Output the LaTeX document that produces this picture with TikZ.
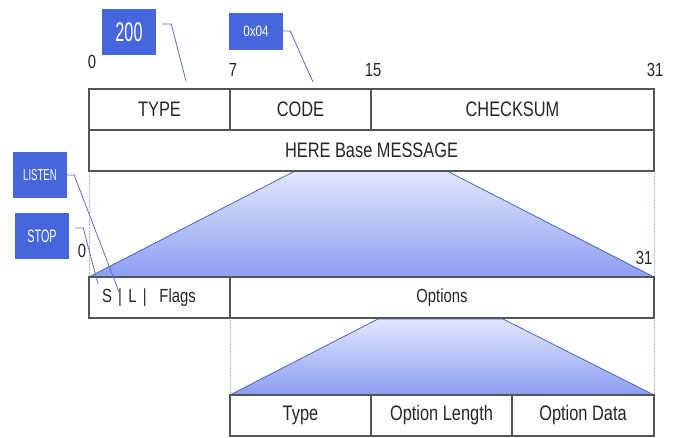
\documentclass[tikz,border=0pt]{standalone}
\usepackage{fontspec}
\setmainfont{Liberation Sans}[FakeStretch=0.78]
\newfontfamily\tagfont{Liberation Sans}[FakeStretch=0.6]
\usetikzlibrary{positioning}
\definecolor{tagblue}{HTML}{4566DC}
\definecolor{leadblue}{HTML}{5C6EC8}
\definecolor{edgeblue}{HTML}{4A62D4}
\definecolor{guideblue}{HTML}{A6B6F0}
\definecolor{wedgetop}{HTML}{E2E7FC}
\definecolor{wedgebottom}{HTML}{8C9DF1}
\definecolor{cellgray}{HTML}{555555}
\tikzset{%
  every cell/.style={
    rectangle,
    draw=cellgray,
    line width=1.3pt,
    inner sep=0pt,
    minimum height=41pt,
    text=black!85,
    font=\fontsize{21}{25}\selectfont
  },
  small cell/.style={
    font=\fontsize{19}{23}\selectfont
  },
  tag/.style={
    fill=tagblue,
    text=white,
    inner sep=0pt,
    minimum width=54pt,
    minimum height=46pt
  },
  lead/.style={draw=leadblue, line width=0.8pt},
  guide/.style={draw=guideblue, densely dotted, line width=0.5pt},
  bit/.style={inner sep=0pt, text=black!85, font=\fontsize{19}{23}\selectfont},
  wedge/.style={draw=edgeblue, line width=0.8pt, top color=wedgetop, bottom color=wedgebottom},
}

\begin{document}
\begin{tikzpicture}[x=1pt, y=-1pt]
    \useasboundingbox (0,0) rectangle (678,437);

    \path [guide] (89,171) -- (89,277) (654,171) -- (654,277);
    \path [guide] (230,318) -- (230,395) (654,318) -- (654,395);

    \path [wedge] (295,171) -- (447,171) -- (654,277) -- (89,277) -- cycle;
    \path [wedge] (378,319) -- (503,319) -- (654,395) -- (230,395) -- cycle;

    \foreach \l/\a/\b [count=\i] in {TYPE/89/230, CODE/230/371, CHECKSUM/371/654}
      \node [every cell, minimum width={(\b-\a)*1pt}] (head-\i) at ({(\a+\b)/2},109.5) {\l};

    \node [every cell, minimum width=565pt] (msg) at (371.5,150.5) {HERE Base MESSAGE};

    \node [every cell, small cell, minimum width=141pt, text width=115pt, align=left]
      (flags) at (159.5,297.5) {S | L |~~Flags};
    \node [every cell, small cell, minimum width=424pt] (opts) at (442,297.5) {Options};

    \foreach \l/\a/\b [count=\i] in {Type/230/371, Option Length/371/512, Option Data/512/654}
      \node [every cell, minimum width={(\b-\a)*1pt}] (field-\i) at ({(\a+\b)/2},415.5) {\l};

    \foreach \n/\x/\y [count=\i] in {0/92/62, 7/233/70, 15/373/70, 31/655/70}
      \node [bit] (bit-\i) at (\x,\y) {\n};
    \node [bit] (low-0) at (82,251) {0};
    \node [bit] (low-31) at (644,258) {31};

    \node [tag, font=\tagfont\fontsize{27}{30}\selectfont] (tag-type) at (129,32) {200};
    \node [tag, minimum height=37pt, font=\fontsize{15}{18}\selectfont] (tag-code) at (256,31) {0x04};
    \node [tag, font=\tagfont\fontsize{16}{19}\selectfont] (tag-listen) at (40,175) {LISTEN};
    \node [tag, font=\tagfont\fontsize{18}{21}\selectfont] (tag-stop) at (42,236) {STOP};

    \coordinate (type-tip) at (186,81);
    \coordinate (code-tip) at (313,82);
    \coordinate (listen-tip) at (119,292);
    \coordinate (stop-tip) at (98,284);

    \draw [lead] ([xshift=6pt,yshift=8pt]tag-type.east) -- ++(9,0) -- (type-tip);
    \draw [lead] ([xshift=-12pt]tag-code.east) -- ++(19,0) -- (code-tip);
    \draw [lead] (tag-listen.east) -- ++(7,0) -- (listen-tip);
    \draw [lead] ([xshift=6pt,yshift=8pt]tag-stop.east) -- ++(8,0) -- (stop-tip);

\end{tikzpicture}
\end{document}
